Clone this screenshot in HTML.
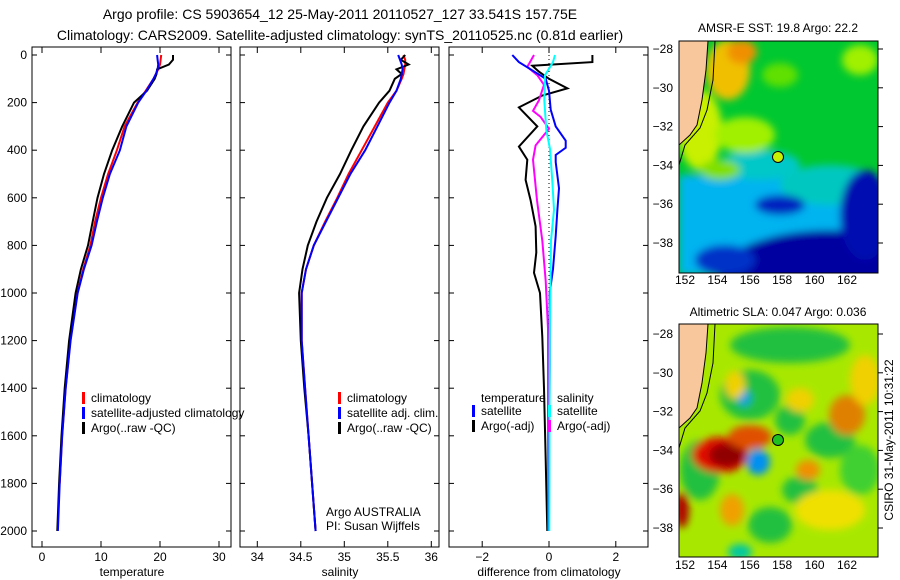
<!DOCTYPE html>
<html><head><meta charset="utf-8"><style>
body{margin:0;background:#fff}
svg{display:block;font-family:"Liberation Sans",sans-serif;font-size:12px}
</style></head><body>
<svg id="s" width="900" height="580" viewBox="0 0 900 580">
<defs>
<filter id="bl" x="-50%" y="-50%" width="200%" height="200%"><feGaussianBlur stdDeviation="4"/></filter>
<clipPath id="c1"><rect x="679" y="41" width="199" height="232"/></clipPath>
<clipPath id="c2"><rect x="679" y="324" width="199" height="233"/></clipPath>
</defs>
<text x="340" y="19" text-anchor="middle" font-size="14">Argo profile: CS 5903654_12 25-May-2011 20110527_127 33.541S 157.75E</text>
<text x="340" y="40" text-anchor="middle" font-size="14">Climatology: CARS2009. Satellite-adjusted climatology: synTS_20110525.nc (0.81d earlier)</text>
<g id="g"></g>
<!-- SST map -->
<g clip-path="url(#c1)">
<rect x="679" y="41" width="199" height="232" fill="#00c830"/>
<g filter="url(#bl)">
<rect x="679" y="175" width="199" height="100" fill="#00b4f0"/>
<ellipse cx="760" cy="165" rx="40" ry="15" fill="#00c8c8"/>
<ellipse cx="830" cy="185" rx="50" ry="20" fill="#00c8c0"/>
<ellipse cx="830" cy="275" rx="110" ry="45" fill="#0000a0"/>
<ellipse cx="865" cy="215" rx="25" ry="45" fill="#0010b0"/>
<ellipse cx="725" cy="260" rx="30" ry="15" fill="#0030c8"/>
<ellipse cx="780" cy="205" rx="25" ry="10" fill="#0020c0"/>
<ellipse cx="700" cy="130" rx="22" ry="40" fill="#c8f000"/>
<ellipse cx="745" cy="135" rx="30" ry="18" fill="#a0f000"/>
<ellipse cx="720" cy="170" rx="20" ry="10" fill="#80e000"/>
<ellipse cx="728" cy="70" rx="22" ry="30" fill="#f0c000"/>
<ellipse cx="742" cy="52" rx="15" ry="12" fill="#f09000"/>
<ellipse cx="860" cy="60" rx="18" ry="15" fill="#a0f000"/>
<ellipse cx="780" cy="75" rx="18" ry="12" fill="#60e000"/>
</g>
<path d="M679 41 L708 41 L706 70 L702 100 L697 125 L690 135 L679 145 Z" fill="#f8c89c" stroke="#000" stroke-width="1"/>
<path d="M715 41 L713 80 L707 110 L700 128 L685 145 L679 165" fill="none" stroke="#000"/>
<circle cx="778" cy="157" r="5.5" fill="#c8f000" stroke="#000"/>
</g>
<rect x="679" y="41" width="199" height="232" fill="none" stroke="#000"/>
<text x="778" y="32" text-anchor="middle">AMSR-E SST: 19.8 Argo: 22.2</text>
<!-- SLA map -->
<g clip-path="url(#c2)">
<rect x="679" y="324" width="199" height="233" fill="#a8e800"/>
<g filter="url(#bl)">
<ellipse cx="790" cy="345" rx="60" ry="18" fill="#20c040"/>
<ellipse cx="830" cy="440" rx="25" ry="18" fill="#20c040"/>
<ellipse cx="790" cy="420" rx="15" ry="15" fill="#20c040"/>
<ellipse cx="750" cy="395" rx="30" ry="25" fill="#20c040"/>
<ellipse cx="700" cy="470" rx="20" ry="30" fill="#20c040"/>
<ellipse cx="800" cy="490" rx="18" ry="14" fill="#20c040"/>
<ellipse cx="860" cy="470" rx="20" ry="25" fill="#40d030"/>
<ellipse cx="720" cy="455" rx="28" ry="18" fill="#e01000"/>
<ellipse cx="727" cy="455" rx="18" ry="12" fill="#900000"/>
<ellipse cx="750" cy="437" rx="22" ry="12" fill="#e05000"/>
<ellipse cx="758" cy="462" rx="12" ry="13" fill="#0090f0"/>
<ellipse cx="744" cy="398" rx="7" ry="8" fill="#00a0e0"/>
<ellipse cx="847" cy="415" rx="18" ry="20" fill="#e08000"/>
<ellipse cx="800" cy="400" rx="14" ry="12" fill="#f0d000"/>
<ellipse cx="735" cy="385" rx="10" ry="14" fill="#f0d000"/>
<ellipse cx="808" cy="470" rx="12" ry="10" fill="#f09000"/>
<ellipse cx="732" cy="510" rx="12" ry="16" fill="#f0a000"/>
<ellipse cx="830" cy="510" rx="35" ry="20" fill="#f0e000"/>
<ellipse cx="770" cy="525" rx="22" ry="18" fill="#20c040"/>
<ellipse cx="682" cy="510" rx="7" ry="18" fill="#b00000"/>
<ellipse cx="740" cy="552" rx="12" ry="8" fill="#00c8a0"/>
<ellipse cx="865" cy="380" rx="15" ry="25" fill="#f0d000"/>
</g>
<path d="M679 324 L708 324 L706 353 L702 383 L697 408 L690 418 L679 428 Z" fill="#f8c89c" stroke="#000" stroke-width="1"/>
<path d="M715 324 L713 363 L707 393 L700 411 L685 428 L679 448" fill="none" stroke="#000"/>
<circle cx="778" cy="440" r="5.5" fill="#20c020" stroke="#000"/>
</g>
<rect x="679" y="324" width="199" height="233" fill="none" stroke="#000"/>
<text x="778" y="316" text-anchor="middle">Altimetric SLA: 0.047 Argo: 0.036</text>
<text transform="translate(893,440) rotate(-90)" text-anchor="middle">CSIRO 31-May-2011 10:31:22</text>
</svg>
<script>
// ---- data ----
const depthTicks=[0,200,400,600,800,1000,1200,1400,1600,1800,2000];
const tempTicks=[0,10,20,30];
const salTicks=[34,34.5,35,35.5,36];
const diffTicks=[-2,0,2];
const profDepth=[0,20,40,60,80,100,150,200,300,400,500,600,700,800,900,1000,1200,1400,1600,1800,2000];
const tempClim=[20.2,20.1,20,19.7,19.3,18.9,17.6,16.2,14,12.7,11.2,10,9,8.2,7,6,4.8,4,3.4,3,2.7];
const tempSat=[19.5,19.6,19.7,19.6,19.3,18.9,17.7,16.3,14.3,13.2,11.5,10.3,9.3,8.4,7.1,6.05,4.85,4.02,3.42,3,2.7];
const tempArgo=[22.2,22.2,21.5,19.5,19.4,19.1,17.8,15.6,13.6,11.9,10.5,9.4,8.6,7.8,6.6,5.7,4.6,3.85,3.3,2.9,2.6];
const salClim=[35.68,35.7,35.7,35.69,35.68,35.66,35.6,35.5,35.35,35.2,35.05,34.92,34.78,34.65,34.56,34.51,34.51,34.55,34.59,34.63,34.67];
const salSat=[35.62,35.64,35.66,35.67,35.66,35.65,35.6,35.52,35.38,35.24,35.07,34.93,34.79,34.65,34.56,34.51,34.51,34.55,34.59,34.63,34.67];
const salArgo=[35.7,35.65,35.74,35.6,35.66,35.58,35.52,35.4,35.22,35.08,34.95,34.8,34.68,34.58,34.52,34.48,34.5,34.54,34.59,34.63,34.67];
const dTempArgoDepth=[0,30,45,70,100,140,170,220,300,385,440,525,610,720,830,915,1000,1185,1400,1700,2000];
const dTempArgo=[1.3,1.3,-0.5,-0.3,0,0.55,-0.2,-0.9,-0.35,-0.9,-0.65,-0.7,-0.55,-0.4,-0.38,-0.45,-0.27,-0.2,-0.15,-0.1,-0.05];
const dTempSatDepth=[0,30,60,100,150,230,300,360,390,420,450,560,650,760,900,1000,1300,1600,2000];
const dTempSat=[-1.1,-0.9,-0.55,-0.1,0,0.05,0.2,0.5,0.5,0.2,0.2,0.3,0.25,0.2,0.12,0.02,0.02,0.01,0];
const dSalArgoDepth=[0,50,85,125,190,235,260,310,380,440,610,780,950,1150,1500,2000];
const dSalArgo=[-0.45,-0.65,-0.35,-0.15,-0.3,-0.48,-0.25,0,-0.4,-0.48,-0.36,-0.2,-0.1,-0.03,-0.03,-0.02];
const dSalSatDepth=[0,30,85,190,315,395,530,650,780,1200,2000];
const dSalSat=[0.18,0.12,-0.12,-0.14,-0.08,0.03,0.1,0.15,0.06,0.02,0.01];
// ---- axes ----
const Y0=55,YS=0.238;
const yD=d=>Y0+d*YS;
const xT=v=>42+v*5.9;
const xS=v=>257.3+(v-34)*87;
const xDf=v=>549+v*33.4;
const g=document.getElementById('g');
const NS='http://www.w3.org/2000/svg';
function mk(t,a,txt){const e=document.createElementNS(NS,t);for(const k in a)e.setAttribute(k,a[k]);if(txt!==undefined)e.textContent=txt;g.appendChild(e);return e;}
function panel(x,name,xf,ticks,label,fmt){
 const r=mk('rect',{x:x,y:47,width:199,height:500,fill:'none',stroke:'#000'});
 
 
 ticks.forEach(t=>{const px=xf(t);
  const l=mk('line',{x1:px,x2:px,y1:547,y2:541,stroke:'#000'});
  
  
  const l2=mk('line',{x1:px,x2:px,y1:47,y2:53,stroke:'#000'});
  
  
  const tx=mk('text',{x:px,y:561,'text-anchor':'middle'},fmt(t));
  
  });
 depthTicks.forEach(d=>{const py=yD(d);
  const l=mk('line',{x1:x,x2:x+5,y1:py,y2:py,stroke:'#000'});
  
  
  const l2=mk('line',{x1:x+199,x2:x+194,y1:py,y2:py,stroke:'#000'});
  
  });
 const xl=mk('text',{x:x+100,y:576,'text-anchor':'middle'},label);
 
 
}
panel(32,'temperature',xT,tempTicks,'temperature',String);
panel(240,'salinity',xS,salTicks,'salinity',String);
panel(449,'difference',xDf,diffTicks,'difference from climatology',v=>v<0?'\u2212'+(-v):String(v));
depthTicks.forEach(d=>{const t=mk('text',{x:27,y:yD(d)+4,'text-anchor':'end'},String(d));
 
 });
const z=mk('line',{x1:xDf(0),x2:xDf(0),y1:yD(0),y2:yD(2000),stroke:'#000','stroke-dasharray':'1,3'});


function line(xs,ds,xf,col,name,maxD){
 let p='';xs.forEach((v,i)=>{if(maxD!==undefined&&ds[i]>maxD)return;p+=(p?'L':'M')+xf(v).toFixed(1)+' '+yD(ds[i]).toFixed(1);});
 const e=mk('path',{d:p,fill:'none',stroke:col,'stroke-width':2});
 
 
}
line(tempClim,profDepth,xT,'#f00','temperature-climatology-line',1800);
line(tempArgo,profDepth,xT,'#000','temperature-argo-line');
line(tempSat,profDepth,xT,'#00f','temperature-satellite-line');
line(salClim,profDepth,xS,'#f00','salinity-climatology-line');
line(salArgo,profDepth,xS,'#000','salinity-argo-line');
line(salSat,profDepth,xS,'#00f','salinity-satellite-line');
line(dTempArgo,dTempArgoDepth,xDf,'#000','temp-diff-argo-line');
line(dSalArgo,dSalArgoDepth,xDf,'#f0f','sal-diff-argo-line');
line(dTempSat,dTempSatDepth,xDf,'#00f','temp-diff-satellite-line');
line(dSalSat,dSalSatDepth,xDf,'#0ff','sal-diff-satellite-line');
function leg(x,y,col,txt,name){
 if(col){const b=mk('rect',{x:x,y:y-10,width:3,height:12,fill:col});
 
 }
 const t=mk('text',{x:x+9,y:y},txt);
 
 
}
leg(82,402,'#f00','climatology','legend-temp-climatology');
leg(82,417,'#00f','satellite-adjusted climatology','legend-temp-satellite');
leg(82,432,'#000','Argo(..raw -QC)','legend-temp-argo');
leg(338,402,'#f00','climatology','legend-sal-climatology');
leg(338,417,'#00f','satellite adj. clim.','legend-sal-satellite');
leg(338,432,'#000','Argo(..raw -QC)','legend-sal-argo');
leg(472,402,null,'temperature','legend-diff-temperature-header');
leg(548,402,null,'salinity','legend-diff-salinity-header');
leg(472,415,'#00f','satellite','legend-diff-temp-satellite');
leg(472,430,'#000','Argo(-adj)','legend-diff-temp-argo');
leg(548,415,'#0ff','satellite','legend-diff-sal-satellite');
leg(548,430,'#f0f','Argo(-adj)','legend-diff-sal-argo');
const a1=mk('text',{x:326,y:516},'Argo AUSTRALIA');


const a2=mk('text',{x:326,y:530},'PI: Susan Wijffels');


const lats=[-28,-30,-32,-34,-36,-38],lons=[152,154,156,158,160,162];
function mapAxes(top,lat0,name){
 lats.forEach(la=>{const py=lat0+(-28-la)*19.4;
  const t=mk('text',{x:673,y:py+4,'text-anchor':'end'},String(la).replace('-','\u2212'));
  
  
  mk('line',{x1:878,x2:883,y1:py,y2:py,stroke:'#000'});});
 lons.forEach(lo=>{const px=685+(lo-152)*16.2;
  const t=mk('text',{x:px,y:top+12,'text-anchor':'middle'},String(lo));
  
  });
}
mapAxes(272,49,'sst-map');
mapAxes(557,334,'sla-map');
</script>
</body></html>
